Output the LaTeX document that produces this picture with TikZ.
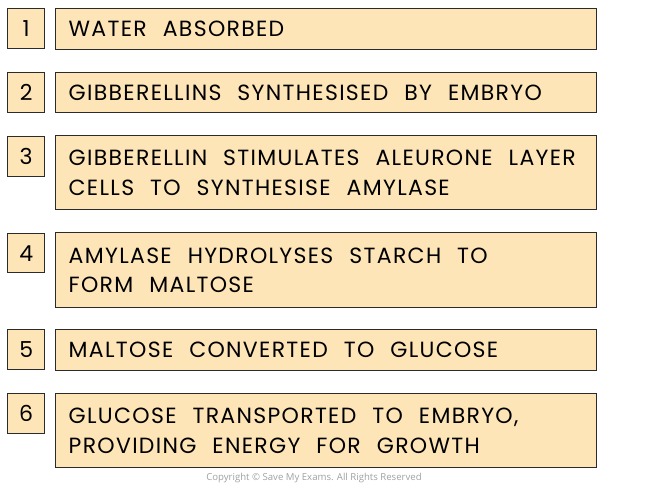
\documentclass[tikz,border=0pt]{standalone}
\usepackage{fontspec}
\setmainfont{Poppins}[LetterSpace=6]
\newfontfamily\numfont{Poppins}
\newfontfamily\copyfont{Open Sans}
\newcommand\stepfont{\fontsize{22}{29.5}\selectfont}
\newcommand\widegaps{\spaceskip=16pt plus 0pt minus 0pt\relax}
\definecolor{boxfill}{HTML}{FDE5B8}
\definecolor{boxline}{HTML}{2B2B2B}
\definecolor{copygray}{HTML}{A0A0A0}
\begin{document}
\begin{tikzpicture}[x=1pt,y=-1pt,
  numbox/.style={draw=boxline,fill=boxfill,line width=1.4pt,anchor=north west,
    minimum width=37pt,minimum height=40pt,inner sep=0pt,
    font=\numfont\fontsize{22}{24}\selectfont},
  textbox/.style={draw=boxline,fill=boxfill,line width=1.4pt,anchor=north west,
    minimum width=541pt,text width=515pt,inner xsep=13pt,inner ysep=0pt,align=left,
    font=\stepfont,execute at begin node=\widegaps},
]
\useasboundingbox (0,0) rectangle (656,484);
\node[numbox] (n1) at (7,8) {1};
\node[textbox,minimum height=41pt] (t1) at (55,8) {WATER ABSORBED};
\node[numbox] (n2) at (7,72) {2};
\node[textbox,minimum height=40pt] (t2) at (55,72) {GIBBERELLINS SYNTHESISED BY EMBRYO};
\node[numbox] (n3) at (7,136) {3};
\node[textbox,minimum height=74pt] (t3) at (55,135) {GIBBERELLIN STIMULATES ALEURONE LAYER\\CELLS TO SYNTHESISE AMYLASE};
\node[numbox,minimum height=39pt] (n4) at (7,233) {4};
\node[textbox,minimum height=75pt] (t4) at (55,232) {AMYLASE HYDROLYSES STARCH TO\\FORM MALTOSE};
\node[numbox] (n5) at (7,329) {5};
\node[textbox,minimum height=41pt] (t5) at (55,329) {MALTOSE CONVERTED TO GLUCOSE};
\node[numbox] (n6) at (7,393) {6};
\node[textbox,minimum height=74pt] (t6) at (55,393) {GLUCOSE TRANSPORTED TO EMBRYO,\\PROVIDING ENERGY FOR GROWTH};
\node[text=copygray,font=\copyfont\fontsize{9.6}{11}\selectfont] (copy) at (314,478) {Copyright © Save My Exams. All Rights Reserved};
\end{tikzpicture}
\end{document}
